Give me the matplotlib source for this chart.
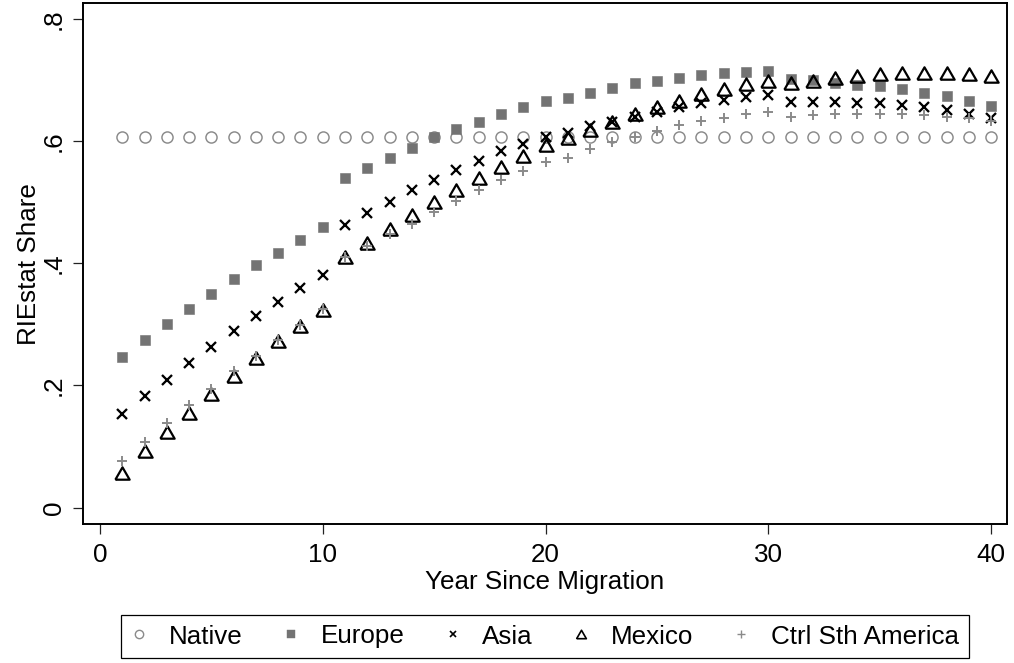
import matplotlib
matplotlib.use("Agg")
import matplotlib.pyplot as plt
from matplotlib.lines import Line2D
import numpy as np

plt.rcParams['font.family'] = ['Liberation Sans', 'DejaVu Sans']

# ---------------- data ----------------
years = list(range(1, 41))

native = [0.607] * 40

europe = [0.247, 0.274, 0.300, 0.325, 0.350, 0.374, 0.397, 0.417, 0.438, 0.460,
          0.539, 0.556, 0.573, 0.589, 0.606, 0.620, 0.632, 0.644, 0.655, 0.665,
          0.671, 0.679, 0.687, 0.695, 0.699, 0.703, 0.708, 0.711, 0.713, 0.714,
          0.701, 0.700, 0.695, 0.692, 0.690, 0.685, 0.679, 0.673, 0.666, 0.657]

asia = [0.153, 0.182, 0.209, 0.236, 0.263, 0.289, 0.313, 0.336, 0.359, 0.381,
        0.463, 0.483, 0.501, 0.520, 0.536, 0.553, 0.568, 0.583, 0.595, 0.606,
        0.614, 0.624, 0.632, 0.640, 0.648, 0.655, 0.662, 0.668, 0.672, 0.675,
        0.664, 0.664, 0.664, 0.663, 0.662, 0.659, 0.655, 0.651, 0.645, 0.638]

mexico = [0.057, 0.092, 0.124, 0.155, 0.186, 0.215, 0.245, 0.272, 0.298, 0.323,
          0.410, 0.434, 0.456, 0.479, 0.500, 0.520, 0.539, 0.557, 0.576, 0.594,
          0.605, 0.618, 0.632, 0.644, 0.655, 0.666, 0.677, 0.685, 0.693, 0.699,
          0.695, 0.698, 0.704, 0.707, 0.709, 0.711, 0.711, 0.711, 0.709, 0.707]

ctrl_sth_america = [0.077, 0.108, 0.138, 0.168, 0.195, 0.223, 0.248, 0.274, 0.299, 0.325,
                    0.410, 0.428, 0.448, 0.465, 0.484, 0.502, 0.520, 0.536, 0.551, 0.565,
                    0.573, 0.587, 0.598, 0.607, 0.617, 0.626, 0.633, 0.638, 0.644, 0.648,
                    0.640, 0.643, 0.644, 0.644, 0.644, 0.644, 0.642, 0.640, 0.637, 0.633]

series_names = ["Native", "Europe", "Asia", "Mexico", "Ctrl Sth America"]

x_ticks = [0, 10, 20, 30, 40]
y_ticks = [0, 0.2, 0.4, 0.6, 0.8]
y_tick_labels = ["0", ".2", ".4", ".6", ".8"]

x_label = "Year Since Migration"
y_label = "RIEstat Share"

# ---------------- styles ----------------
tri = [(-1.0, -0.866), (1.0, -0.866), (0.0, 0.866), (-1.0, -0.866)]
GRAY_C = '#8a8a8a'
GRAY_S = '#737373'
GRAY_P = '#8a8a8a'

styles = [
    dict(marker='o', ms=8.0, mfc='none', mec=GRAY_C, mew=1.05),
    dict(marker='s', ms=6.7, mfc=GRAY_S, mec=GRAY_S, mew=0.4),
    dict(marker='x', ms=6.8, mfc='black', mec='black', mew=1.65),
    dict(marker=tri, ms=10.3, mfc='none', mec='black', mew=1.6),
    dict(marker='+', ms=7.4, mfc=GRAY_P, mec=GRAY_P, mew=1.4),
]
leg_styles = [
    dict(marker='o', ms=6.0, mfc='none', mec=GRAY_C, mew=1.0),
    dict(marker='s', ms=5.2, mfc=GRAY_S, mec=GRAY_S, mew=0.3),
    dict(marker='x', ms=5.0, mfc='black', mec='black', mew=1.2),
    dict(marker=tri, ms=7.0, mfc='none', mec='black', mew=1.2),
    dict(marker='+', ms=5.5, mfc=GRAY_P, mec=GRAY_P, mew=1.0),
]

FS = 18.7
W, H = 1014, 663
fig = plt.figure(figsize=(W / 100, H / 100), dpi=100)
L, R, T, B = 83, 1006.7, 3, 524.3
ax = fig.add_axes([L / W, 1 - B / H, (R - L) / W, (B - T) / H])

data = [native, europe, asia, mexico, ctrl_sth_america]
for vals, st in zip(data, styles):
    ax.plot(years, vals, linestyle='none', **st)

ax.set_xlim(-0.763, 40.70)
ax.set_ylim(-0.0272, 0.826)

ax.set_xticks(x_ticks)
ax.set_xticklabels([str(v) for v in x_ticks], fontsize=FS)
ax.set_yticks(y_ticks)
ax.set_yticklabels(y_tick_labels, fontsize=FS, rotation=90, va='center')

ax.tick_params(axis='both', direction='out', length=7.2, width=0.9, color='#222222')
ax.tick_params(axis='x', pad=6.2)
ax.tick_params(axis='y', pad=5.2)

for sp in ax.spines.values():
    sp.set_linewidth(1.4)
    sp.set_color('black')

ax.set_xlabel(x_label, fontsize=FS)
ax.xaxis.set_label_coords(0.5, (B - 570.0) / (B - T))
ax.set_ylabel(y_label, fontsize=FS)
ax.yaxis.set_label_coords((40.8 - L) / (R - L), 0.5)

handles = [Line2D([], [], linestyle='none', **st) for st in leg_styles]
leg = fig.legend(handles, series_names, loc='center', ncol=5, fontsize=FS,
                 bbox_to_anchor=(545.3 / W, 1 - 636.5 / H),
                 bbox_transform=fig.transFigure,
                 frameon=True, fancybox=False, shadow=False, framealpha=1,
                 borderpad=0.38, handlelength=0.6, handletextpad=0.85,
                 columnspacing=1.55, borderaxespad=0)
leg.get_frame().set_edgecolor('black')
leg.get_frame().set_linewidth(0.9)

fig.savefig('out.png', dpi=100, facecolor='white')
